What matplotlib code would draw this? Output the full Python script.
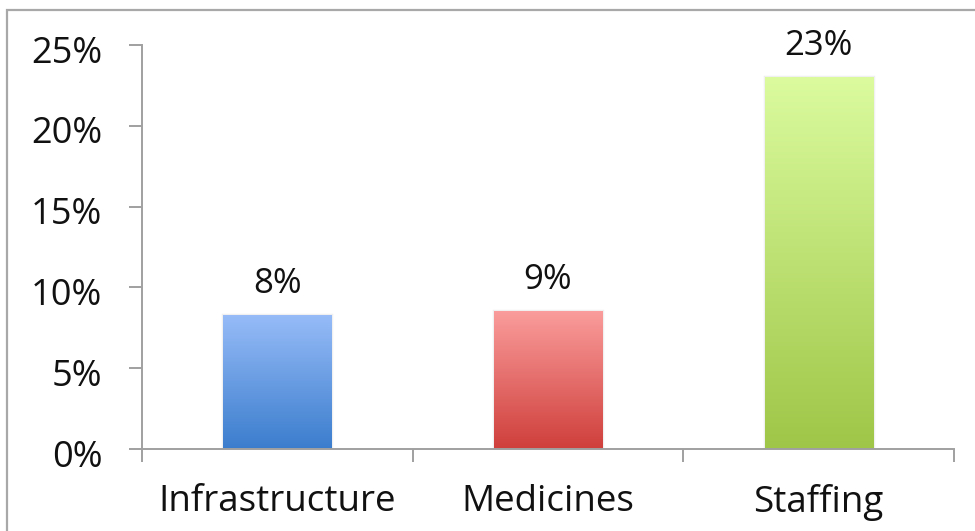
import numpy as np
import matplotlib
matplotlib.use("Agg")
import matplotlib.pyplot as plt
from matplotlib.colors import LinearSegmentedColormap
from matplotlib.patches import Rectangle
from matplotlib.ticker import FuncFormatter, MultipleLocator
from matplotlib.transforms import ScaledTranslation

categories = ["Infrastructure", "Medicines", "Staffing"]
shares = [0.083, 0.0855, 0.230]
top_colors = ["#97bcf8", "#fa9d9c", "#dbfb9e"]
bottom_colors = ["#3b7dcd", "#cf3f3b", "#9fc647"]

plt.rcParams["font.family"] = ["Open Sans", "DejaVu Sans"]

fig = plt.figure(figsize=(9.75, 5.31), dpi=100)
ax = fig.add_axes([142 / 975, 1 - 449 / 531, (954 - 142) / 975, (449 - 45) / 531])

x = np.arange(len(categories))
bars = ax.bar(x, shares, width=0.40, color="none", edgecolor="none", zorder=2)

# vertical gradient fill for every bar
grad = np.linspace(1, 0, 256).reshape(-1, 1)
for bar, c_top, c_bot in zip(bars, top_colors, bottom_colors):
    cmap = LinearSegmentedColormap.from_list("g", [c_bot, c_top])
    bx, bw, bh = bar.get_x(), bar.get_width(), bar.get_height()
    im = ax.imshow(grad, cmap=cmap, aspect="auto", vmin=0, vmax=1,
                   extent=[bx, bx + bw, 0, bh], zorder=2, interpolation="bilinear")
    im.set_clip_path(bar)
    # faint soft edge around the bar
    ax.add_patch(Rectangle((bx, 0), bw, bh, fill=False, edgecolor="#000000",
                           alpha=0.06, linewidth=2.5, zorder=1.9))

for bar, v in zip(bars, shares):
    ax.annotate(f"{v:.0%}", (bar.get_x() + bar.get_width() / 2, bar.get_height()),
                xytext=(0, 10), textcoords="offset points",
                ha="center", va="bottom", fontsize=25, color="#111111")

ax.set_xlim(-0.5, len(categories) - 0.5)
ax.set_ylim(0, 0.25)
ax.yaxis.set_major_locator(MultipleLocator(0.05))
ax.yaxis.set_major_formatter(FuncFormatter(lambda v, _: f"{v * 100:.0f}%"))

# category labels centred, tick marks on category boundaries
ax.set_xticks(x)
ax.set_xticklabels(categories)
ax.set_xticks(np.arange(-0.5, len(categories)), minor=True)
ax.tick_params(axis="x", which="major", length=0, pad=25, labelsize=26.5, labelcolor="#111111")
ax.tick_params(axis="x", which="minor", length=9.5, width=1.4, color="#a0a0a0", direction="out")
ax.tick_params(axis="y", length=9.5, width=1.4, color="#a0a0a0", pad=19, labelsize=26,
               labelcolor="#111111")
shift = ScaledTranslation(0, -3 / 72, fig.dpi_scale_trans)
for lbl in ax.get_yticklabels():
    lbl.set_transform(lbl.get_transform() + shift)

for side in ("top", "right"):
    ax.spines[side].set_visible(False)
for side in ("left", "bottom"):
    ax.spines[side].set_color("#a0a0a0")
    ax.spines[side].set_linewidth(1.4)

# outer frame of the chart area
fig.add_artist(Rectangle((7 / 975, -0.1), 1.2, 1 - 10 / 531 + 0.1, transform=fig.transFigure,
                         fill=False, edgecolor="#a8a8a8", linewidth=1.6))

fig.savefig("out.png", dpi=100)
